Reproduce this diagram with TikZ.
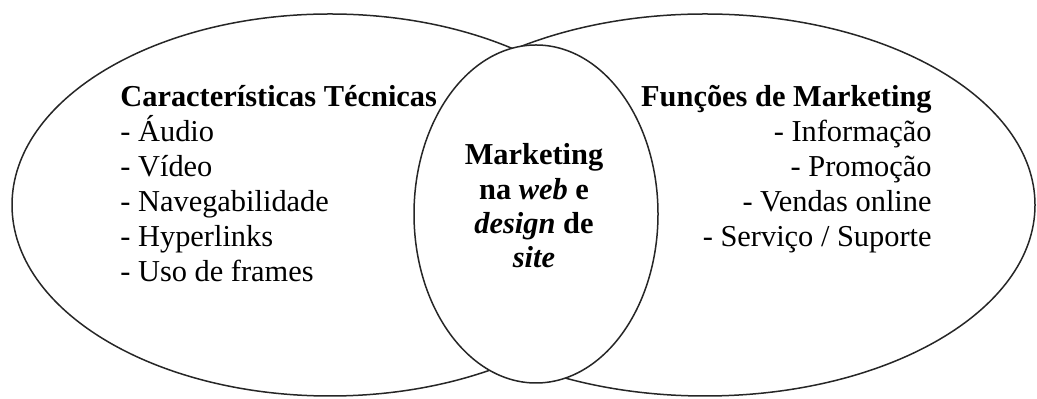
\documentclass[tikz,border=0pt]{standalone}
\usepackage{fontspec}
\setmainfont{Liberation Serif}
\begin{document}
\begin{tikzpicture}[x=0.5pt,y=-0.5pt]
        %cores e estilos
        \colorlet{linha}{black!85}
        \tikzset{conj/.style={draw=linha,line width=0.75pt,fill=white},
                 texto/.style={inner sep=0pt,font=\fontsize{15.2}{17.5}\selectfont}}
        \useasboundingbox (0,0) rectangle (1037,399);

        % Conjunto direito, depois o esquerdo por cima
        \filldraw[conj] (705,205) ellipse (330 and 191);
        \filldraw[conj] (330,205) ellipse (318 and 191);
        % Conjunto central, tapa os arcos internos
        \filldraw[conj] (536,214) ellipse (122 and 169);

        %Textos (ancorados na ultima linha)
        \node[texto,anchor=base west,align=left] (tecnicas) at (120,282)
            {\textbf{Características Técnicas}\\- Áudio\\- Vídeo\\- Navegabilidade\\- Hyperlinks\\- Uso de frames};
        \node[texto,anchor=base,align=center,font=\fontsize{15.2}{17.2}\selectfont\bfseries] (centro) at (534,268)
            {Marketing\\na \textit{web} e\\\textit{design} de\\\textit{site}};
        \node[texto,anchor=base east,align=right] (funcoes) at (932,247)
            {\textbf{Funções de Marketing}\\- Informação\\- Promoção\\- Vendas online\\- Serviço / Suporte};
    \end{tikzpicture}
\end{document}
